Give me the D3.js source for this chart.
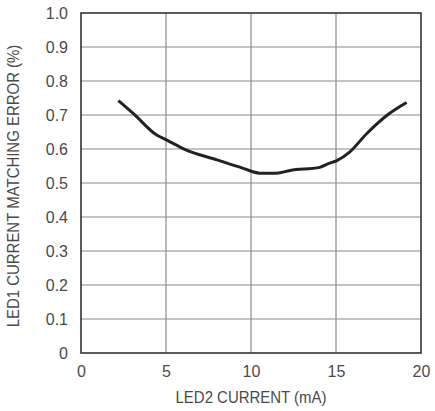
<!DOCTYPE html>
<html>
<head>
<meta charset="utf-8">
<script src="https://cdn.jsdelivr.net/npm/d3@7"></script>
<style>
  body { margin: 0; background: #fff; }
  text { font-family: "Liberation Sans", Arial, sans-serif; fill: #4a4a4a; }
</style>
</head>
<body>
<svg id="chart"></svg>
<script>
// values
var currentMA = [2.2, 3.1, 4.45, 5.05, 6.1, 8.0, 9.55, 10.5, 11.5, 12.3, 14.05, 14.55, 15.05, 15.8, 16.8, 18.1, 19.15];
var matchErr  = [0.742, 0.703, 0.641, 0.626, 0.599, 0.568, 0.543, 0.529, 0.529, 0.537, 0.546, 0.557, 0.566, 0.591, 0.645, 0.703, 0.737];

var xTicks = [0, 5, 10, 15, 20];
var yTicks = [0, 0.1, 0.2, 0.3, 0.4, 0.5, 0.6, 0.7, 0.8, 0.9, 1.0];

var svgW = 435, svgH = 411;
var marginL = 81, marginT = 13, plotW = 340, plotH = 340;

var svg = d3.select("#chart").attr("width", svgW).attr("height", svgH);

var x = d3.scaleLinear().domain([0, 20]).range([marginL, marginL + plotW]);
var y = d3.scaleLinear().domain([0, 1]).range([marginT + plotH, marginT]);

// grid
svg.append("g").selectAll("line")
  .data(xTicks.slice(1, -1))
  .enter().append("line")
    .attr("x1", function(d){ return x(d); })
    .attr("x2", function(d){ return x(d); })
    .attr("y1", marginT).attr("y2", marginT + plotH)
    .attr("stroke", "#8a8a8a").attr("stroke-width", 1.2);

svg.append("g").selectAll("line")
  .data(yTicks.slice(1, -1))
  .enter().append("line")
    .attr("y1", function(d){ return y(d); })
    .attr("y2", function(d){ return y(d); })
    .attr("x1", marginL).attr("x2", marginL + plotW)
    .attr("stroke", "#8a8a8a").attr("stroke-width", 1.2);

// frame
svg.append("rect")
  .attr("x", marginL).attr("y", marginT)
  .attr("width", plotW).attr("height", plotH)
  .attr("fill", "none").attr("stroke", "#333").attr("stroke-width", 1.6);

// axes (labels only)
var xAxis = d3.axisBottom(x).tickValues(xTicks).tickSize(0).tickPadding(13)
  .tickFormat(d3.format("d"));
var gx = svg.append("g").attr("transform", "translate(0," + (marginT + plotH) + ")").call(xAxis);
gx.select(".domain").remove();
gx.selectAll("text").style("font-size", "16px").attr("fill", "#4a4a4a");

var yAxis = d3.axisLeft(y).tickValues(yTicks).tickSize(0).tickPadding(13)
  .tickFormat(function(d){ return d === 0 ? "0" : d3.format(".1f")(d); });
var gy = svg.append("g").attr("transform", "translate(" + marginL + ",0)").call(yAxis);
gy.select(".domain").remove();
gy.selectAll("text").style("font-size", "16px").attr("fill", "#4a4a4a");

// titles (narrowed to mimic the condensed face)
svg.append("text")
  .attr("transform", "translate(" + (marginL + plotW / 2) + ",403) scale(0.88,1)")
  .attr("text-anchor", "middle")
  .style("font-size", "17px")
  .text("LED2 CURRENT (mA)");

svg.append("text")
  .attr("transform", "translate(19," + (marginT + plotH / 2 + 3) + ") rotate(-90) scale(0.88,1)")
  .attr("text-anchor", "middle")
  .style("font-size", "17px")
  .text("LED1 CURRENT MATCHING ERROR (%)");

// curve
var line = d3.line()
  .x(function(d, i){ return x(currentMA[i]); })
  .y(function(d){ return y(d); })
  .curve(d3.curveMonotoneX);

svg.append("path")
  .datum(matchErr)
  .attr("d", line)
  .attr("fill", "none")
  .attr("stroke", "#222")
  .attr("stroke-width", 3)
  .attr("stroke-linejoin", "round");
</script>
</body>
</html>
